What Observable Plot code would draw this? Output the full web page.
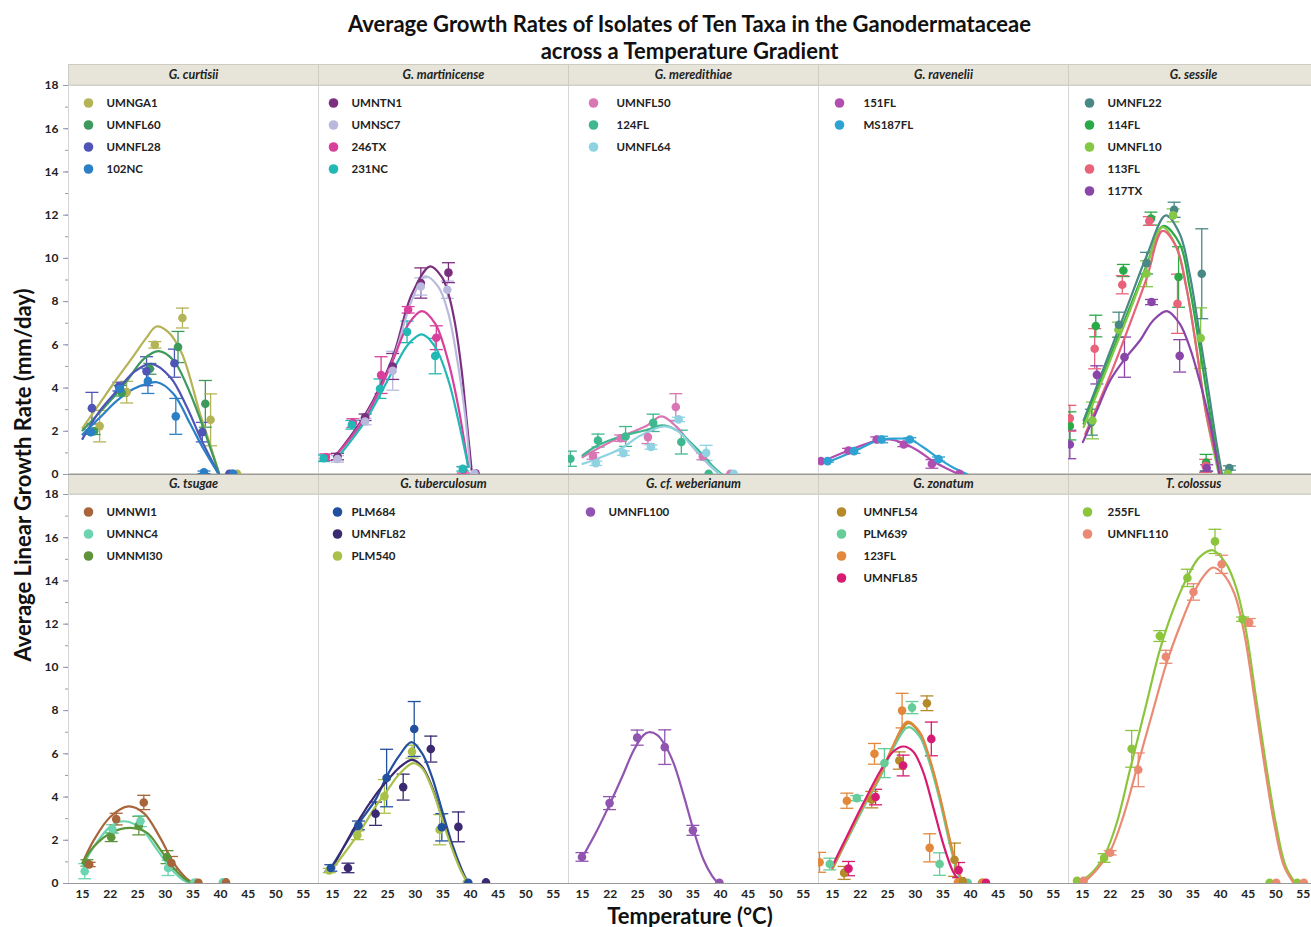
<!DOCTYPE html>
<html><head><meta charset="utf-8">
<script src="https://cdn.jsdelivr.net/npm/d3@7"></script>
<script src="https://cdn.jsdelivr.net/npm/@observablehq/plot@0.6"></script>
<style>
body{margin:0;overflow:hidden;background:#fff;font-family:Lato,"Open Sans",sans-serif;color:#111;}
#title{position:absolute;left:68px;width:1243px;top:10px;text-align:center;font:bold 22px/27px Lato,sans-serif;}
#chart{position:absolute;left:0;top:63px;width:1318px;}
#chart svg{max-width:none !important;}
#ylab{position:absolute;left:22px;top:475px;transform:translate(-50%,-50%) rotate(-90deg);font:bold 22px Lato,sans-serif;white-space:nowrap;}
#xlab{position:absolute;left:690px;top:915px;transform:translate(-50%,-50%);font:bold 22px Lato,sans-serif;white-space:nowrap;}
</style></head><body>
<div id="title">Average Growth Rates of Isolates of Ten Taxa in the Ganodermataceae<br>across a Temperature Gradient</div>
<div id="chart"></div>
<div id="ylab">Average Linear Growth Rate (mm/day)</div>
<div id="xlab">Temperature (°C)</div>
<script>
// ---------------- data ----------------
const taxa = ["G. curtisii","G. martinicense","G. meredithiae","G. ravenelii","G. sessile",
              "G. tsugae","G. tuberculosum","G. cf. weberianum","G. zonatum","T. colossus"];

const isolatesByTaxon = [
  ["UMNGA1","UMNFL60","UMNFL28","102NC"],
  ["UMNTN1","UMNSC7","246TX","231NC"],
  ["UMNFL50","124FL","UMNFL64"],
  ["151FL","MS187FL"],
  ["UMNFL22","114FL","UMNFL10","113FL","117TX"],
  ["UMNWI1","UMNNC4","UMNMI30"],
  ["PLM684","UMNFL82","PLM540"],
  ["UMNFL100"],
  ["UMNFL54","PLM639","123FL","UMNFL85"],
  ["255FL","UMNFL110"]
];

const isolateNames = ["UMNGA1","UMNFL60","UMNFL28","102NC","UMNTN1","UMNSC7","246TX","231NC",
  "UMNFL50","124FL","UMNFL64","151FL","MS187FL","UMNFL22","114FL","UMNFL10","113FL","117TX",
  "UMNWI1","UMNNC4","UMNMI30","PLM684","UMNFL82","PLM540","UMNFL100","UMNFL54","PLM639","123FL","UMNFL85",
  "255FL","UMNFL110"];
const isolateColors = ["#b4b356","#3d9a5c","#4f55b5","#2a7fc5","#7b2f7f","#b9b9dd","#d8409c","#22b8b5",
  "#d977b5","#3fb88f","#8fd3e3","#b04fb0","#2ea3d3","#4a8886","#2aaa46","#84c846","#e8627a","#8a45a8",
  "#a8643a","#6cd4b0","#5d943a","#22509e","#3b2a72","#a9c148","#9055b0","#b48a2a","#66cc99","#e3883a","#d81b72",
  "#8cc43c","#ea8a72"];

// points: [isolate, temperature position, mean rate, error]
const curtisiiPts = [
  ["UMNGA1",18.1,2.24,0.73],["UMNGA1",23.0,3.81,0.5],["UMNGA1",28.1,6.0,0.15],["UMNGA1",33.1,7.24,0.46],["UMNGA1",38.2,2.53,1.2],["UMNGA1",43.0,0.03,0],
  ["UMNFL60",17.1,2.0,0.15],["UMNFL60",22.1,3.78,0.15],["UMNFL60",27.2,4.89,0.25],["UMNFL60",32.3,5.9,0.72],["UMNFL60",37.25,3.27,1.08],["UMNFL60",42.1,0.03,0],
  ["UMNFL28",16.7,3.07,0.73],["UMNFL28",21.6,4.07,0.2],["UMNFL28",26.6,4.78,0.67],["UMNFL28",31.65,5.15,0.65],["UMNFL28",36.7,1.96,0.45],["UMNFL28",41.6,0.03,0],
  ["102NC",16.5,1.96,0.1],["102NC",21.8,3.97,0.15],["102NC",26.85,4.32,0.57],["102NC",31.9,2.69,0.83],["102NC",37.0,0.1,0.06],["102NC",42.3,0.03,0]
];
const martinicensePts = [
  ["246TX",13.8,0.8,0.15],["231NC",13.4,0.75,0.15],["UMNTN1",15.9,0.83,0.15],["UMNSC7",15.9,0.72,0.15],
  ["246TX",18.7,2.38,0.2],["231NC",18.5,2.3,0.2],["UMNTN1",20.9,2.65,0.15],["UMNSC7",20.9,2.45,0.15],
  ["246TX",23.8,4.6,0.85],["231NC",23.6,3.97,0.45],["UMNTN1",25.9,5.0,0.6],["UMNSC7",25.9,4.8,0.9],
  ["246TX",28.7,7.62,0.15],["231NC",28.5,6.6,0.5],["UMNTN1",31.0,8.86,0.7],["UMNSC7",31.0,8.7,0.4],
  ["246TX",33.8,6.33,0.55],["231NC",33.6,5.48,0.82],["UMNTN1",36.0,9.34,0.46],["UMNSC7",35.8,8.55,0.4],
  ["246TX",38.7,0.22,0.15],["231NC",38.6,0.26,0.1],["UMNTN1",40.9,0.06,0],["UMNSC7",40.7,0.05,0]
];
const meredithiaePts = [
  ["124FL",12.8,0.73,0.35],["UMNFL50",16.9,0.86,0.15],["UMNFL64",17.4,0.52,0.1],["124FL",17.8,1.57,0.3],
  ["UMNFL50",21.9,1.68,0.15],["UMNFL64",22.4,0.99,0.1],["124FL",22.8,1.76,0.46],
  ["UMNFL50",26.85,1.73,0.3],["UMNFL64",27.4,1.27,0.1],["124FL",27.8,2.39,0.4],
  ["UMNFL50",31.9,3.12,0.62],["UMNFL64",32.4,2.55,0.1],["124FL",32.9,1.5,0.55],
  ["UMNFL50",36.8,0.83,0.15],["UMNFL64",37.4,1.0,0.35],["124FL",37.85,0.03,0],
  ["UMNFL50",41.8,0.03,0],["UMNFL64",42.4,0.03,0]
];
const raveneliiPts = [
  ["151FL",12.9,0.62,0.05],["MS187FL",14.1,0.62,0.05],["151FL",17.9,1.11,0.1],["MS187FL",18.9,1.08,0.1],
  ["151FL",23.0,1.62,0.12],["MS187FL",23.9,1.62,0.15],["151FL",27.9,1.39,0.1],["MS187FL",29.0,1.62,0.08],
  ["151FL",33.0,0.49,0.2],["MS187FL",34.2,0.71,0.1],["151FL",38.0,0.03,0]
];
const sessilePts = [
  ["117TX",12.7,1.39,0.66],["114FL",12.7,2.25,0.65],["113FL",12.7,2.6,0.6],
  ["UMNFL22",16.6,2.42,0.6],["UMNFL10",16.8,2.5,0.85],["114FL",17.4,6.87,0.5],["113FL",17.2,5.82,0.93],["117TX",17.6,4.61,0.42],
  ["UMNFL10",21.5,6.7,0.35],["UMNFL22",21.6,6.93,0.58],["114FL",22.4,9.44,0.28],["113FL",22.2,8.78,0.42],["117TX",22.6,5.43,0.93],
  ["UMNFL22",26.6,9.78,0.5],["UMNFL10",26.6,9.29,0.6],["114FL",27.4,11.84,0.3],["113FL",27.1,11.73,0.2],["117TX",27.5,7.98,0.12],
  ["UMNFL22",31.6,12.25,0.35],["UMNFL10",31.4,11.99,0.3],["114FL",32.4,9.14,1.4],["113FL",32.2,7.9,1.37],["117TX",32.6,5.49,0.75],
  ["UMNFL22",36.6,9.29,2.08],["UMNFL10",36.4,6.31,1.4],["114FL",37.4,0.55,0.38],["113FL",37.3,0.4,0.3],["117TX",37.5,0.3,0.15],
  ["UMNFL22",41.6,0.3,0.1],["UMNFL10",41.3,0.03,0]
];
const tsugaePts = [
  ["UMNNC4",15.4,0.57,0.35],["UMNMI30",15.8,0.95,0.15],["UMNWI1",16.2,0.88,0.1],
  ["UMNMI30",20.2,2.14,0.2],["UMNNC4",20.4,2.52,0.2],["UMNWI1",21.1,2.98,0.27],
  ["UMNMI30",25.2,2.68,0.43],["UMNNC4",25.5,2.88,0.25],["UMNWI1",26.1,3.75,0.33],
  ["UMNMI30",30.3,1.22,0.3],["UMNNC4",30.5,0.72,0.35],["UMNWI1",31.1,0.95,0.3],
  ["UMNMI30",35.5,0.03,0],["UMNNC4",35.2,0.03,0],["UMNWI1",36.0,0.03,0],
  ["UMNNC4",40.4,0.05,0],["UMNWI1",41.0,0.05,0]
];
const tuberculosumPts = [
  ["PLM540",14.4,0.6,0.1],["PLM684",14.7,0.72,0.15],["UMNFL82",17.8,0.72,0.22],
  ["PLM540",19.5,2.23,0.2],["PLM684",19.7,2.69,0.2],["UMNFL82",22.8,3.23,0.54],
  ["PLM540",24.4,4.03,0.78],["PLM684",24.8,4.88,1.33],["UMNFL82",27.8,4.46,0.6],
  ["PLM540",29.4,6.1,0.3],["PLM684",29.8,7.15,1.27],["UMNFL82",32.8,6.22,0.6],
  ["PLM540",34.4,2.49,0.7],["PLM684",34.8,2.6,0.63],["UMNFL82",37.8,2.62,0.69],
  ["PLM540",39.3,0.03,0],["PLM684",39.6,0.03,0],["UMNFL82",42.8,0.05,0]
];
const weberianumPts = [
  ["UMNFL100",14.9,1.23,0.2],["UMNFL100",19.9,3.72,0.3],["UMNFL100",24.9,6.75,0.35],
  ["UMNFL100",29.9,6.31,0.8],["UMNFL100",35.0,2.46,0.23],["UMNFL100",39.8,0.03,0]
];
const zonatumPts = [
  ["123FL",12.65,0.98,0.46],["PLM639",14.5,0.9,0.27],["UMNFL54",17.1,0.49,0.3],["UMNFL85",17.9,0.69,0.33],
  ["123FL",17.6,3.83,0.35],["PLM639",19.4,3.95,0.12],["UMNFL54",22.1,3.88,0.38],["UMNFL85",22.8,4.0,0.36],
  ["123FL",22.6,6.0,0.48],["PLM639",24.4,5.57,0.67],["UMNFL54",27.1,5.69,0.4],["UMNFL85",27.8,5.46,0.48],
  ["123FL",27.6,8.0,0.8],["PLM639",29.4,8.14,0.28],["UMNFL54",32.1,8.34,0.34],["UMNFL85",32.9,6.69,0.78],
  ["123FL",32.6,1.65,0.65],["PLM639",34.4,0.9,0.52],["UMNFL54",37.1,1.1,0.77],["UMNFL85",37.85,0.62,0.35],
  ["123FL",37.7,0.05,0],["PLM639",39.5,0.03,0],["UMNFL54",38.6,0.1,0],
  ["UMNFL54",42.1,0.03,0],["123FL",42.3,0.03,0],["UMNFL85",42.8,0.03,0]
];
const colossusPts = [
  ["255FL",14.0,0.12,0],["UMNFL110",15.2,0.12,0],["255FL",18.9,1.18,0.2],["UMNFL110",20.0,1.42,0.1],
  ["255FL",23.9,6.23,0.85],["UMNFL110",25.1,5.26,0.78],["255FL",29.0,11.45,0.25],["UMNFL110",30.1,10.49,0.3],
  ["255FL",34.0,14.14,0.4],["UMNFL110",35.1,13.49,0.38],["255FL",39.0,15.83,0.56],["UMNFL110",40.2,14.77,0.42],
  ["255FL",44.0,12.23,0.1],["UMNFL110",45.2,12.08,0.18],["255FL",48.9,0.03,0],["UMNFL110",50.1,0.03,0],
  ["255FL",53.9,0.03,0],["UMNFL110",55.1,0.03,0]
];

// fitted curves: [isolate, [[temperature position, rate], ...]]
const curtisiiCurves = [
  ["UMNGA1",[[15,2.15],[18,3.25],[21,4.35],[24,5.4],[26.5,6.3],[28.4,6.85],[30.5,6.6],[33,5.6],[36.3,2.8],[38.1,1.4],[39.8,0]]],
  ["UMNFL60",[[15,2.04],[20.1,3.43],[23.1,4.35],[26.1,5.35],[28.8,5.71],[31.5,5.28],[33.9,4.12],[36.3,2.58],[38.1,1.27],[39.8,0]]],
  ["UMNFL28",[[15,1.65],[18,2.9],[21.3,3.89],[24.3,4.74],[27.45,5.12],[30.9,4.5],[33.9,3.12],[36.3,1.73],[38.1,0.8],[39.7,0]]],
  ["102NC",[[15,1.85],[18,2.6],[21.3,3.43],[24.3,3.97],[28.5,4.27],[31.5,3.73],[34.5,2.35],[36.9,1.19],[39.7,0]]]
];
const martinicenseCurves = [
  ["UMNTN1",[[15.6,0.88],[21,2.81],[25.8,5.35],[29.4,8.36],[32.7,9.63],[34.8,9.14],[36,8.36],[37.2,6.98],[38.4,4.81],[39.3,2.5],[40.2,0.2]]],
  ["UMNSC7",[[15.6,0.77],[21,2.69],[25.8,5.2],[29.4,8.09],[31.8,9.17],[34.2,8.67],[36,7.44],[37.8,4.97],[39,2.81],[39.9,0.35]]],
  ["246TX",[[15.3,0.8],[21,2.65],[25.8,5.2],[28.8,6.98],[31.2,7.56],[33.6,6.98],[36,5.2],[37.8,3.12],[39.6,0.35]]],
  ["231NC",[[15.9,0.77],[21,2.5],[25.8,4.74],[28.8,6.05],[31.2,6.48],[33.6,5.9],[36,4.35],[37.8,2.5],[39.6,0.35]]]
];
const meredithiaeCurves = [
  ["UMNFL50",[[15,0.8],[17.7,1.19],[21.9,1.73],[26.7,2.27],[29.3,2.69],[32.1,2.19],[34.5,1.42],[36.9,0.73],[38.75,0.26],[40,0]]],
  ["124FL",[[15,0.88],[17.7,1.34],[21.9,1.76],[26.7,2.07],[29.4,2.27],[32.1,2.04],[34.5,1.5],[36.9,0.88],[38.75,0.34],[40.3,0]]],
  ["UMNFL64",[[15,0.49],[17.7,0.73],[21.9,1.19],[25.5,1.8],[29.7,2.22],[32.1,2.04],[34.5,1.42],[36.9,0.73],[38.75,0.26],[40,0]]]
];
const raveneliiCurves = [
  ["151FL",[[12.9,0.57],[17.9,1.11],[23,1.57],[25.4,1.62],[27.9,1.45],[30.5,1.1],[33,0.65],[35.5,0.3],[38,0]]],
  ["MS187FL",[[14.1,0.57],[18.9,1.08],[23.5,1.6],[26,1.66],[29,1.62],[31.5,1.25],[34.2,0.75],[37,0.3],[39.5,0]]]
];
const sessileCurves = [
  ["UMNFL22",[[15.2,2.5],[17.6,4.1],[20.6,6.1],[23.6,8.1],[26.6,10.1],[30.1,11.99],[32.6,11.14],[34.4,9.29],[36.2,6.5],[38,3.58],[39.2,1.57],[40.3,0]]],
  ["114FL",[[15.2,2.35],[17.6,3.89],[20.6,5.82],[23.6,7.75],[26.6,9.68],[29.6,11.5],[32.6,10.68],[34.4,8.67],[36.2,5.9],[38,2.96],[39.9,0]]],
  ["UMNFL10",[[15.2,2.19],[17.6,3.73],[20.6,5.66],[23.6,7.59],[26.6,9.6],[29.5,11.45],[32,10.52],[33.8,8.67],[35.6,5.9],[37.4,2.81],[39.7,0]]],
  ["113FL",[[15.5,1.88],[17.6,3.12],[20.6,4.97],[23.6,6.98],[26.6,9.06],[29.5,11.27],[32,10.52],[33.8,8.67],[35.6,5.9],[37.4,2.81],[40,0]]],
  ["117TX",[[15.06,1.5],[17.6,2.96],[20,4.35],[22.7,5.36],[25.4,6.2],[27.8,7.13],[30.3,7.56],[32.6,6.98],[34.4,5.9],[36.2,4.35],[38,2.5],[39.8,0]]]
];
const tsugaeCurves = [
  ["UMNWI1",[[15,0.95],[17.1,2.03],[20.1,3.1],[23.3,3.57],[26.1,3.26],[29.1,2.1],[31.5,0.95],[33.9,0.22],[35.4,0]]],
  ["UMNNC4",[[15,0.8],[17.1,1.72],[20.1,2.65],[22.5,2.88],[25.5,2.57],[28.5,1.57],[30.9,0.72],[33.3,0.15],[34.8,0]]],
  ["UMNMI30",[[15,0.95],[17.1,1.72],[20.1,2.34],[23.7,2.57],[26.7,2.34],[29.1,1.57],[31.5,0.72],[33.9,0.15],[35.4,0]]]
];
const tuberculosumCurves = [
  ["PLM684",[[14.7,0.72],[19.8,2.8],[22.8,3.88],[24.8,4.95],[27,5.88],[29.3,6.54],[31.2,6.03],[33,4.95],[34.8,3.42],[36.6,1.88],[38.4,0.65],[39.6,0]]],
  ["UMNFL82",[[15,0.72],[19.8,2.95],[22.8,4.1],[24.8,4.72],[27,5.34],[29.4,5.72],[31.2,5.42],[33,4.49],[34.8,3.11],[36.6,1.72],[38.4,0.57],[39.6,0]]],
  ["PLM540",[[14.7,0.57],[19.8,2.34],[22.8,3.57],[24.8,4.26],[27,5.03],[29.6,5.57],[31.2,5.34],[33,4.42],[34.8,3.03],[36.6,1.65],[38.4,0.52],[39.6,0]]]
];
const weberianumCurves = [
  ["UMNFL100",[[14.9,1.18],[17.7,2.49],[19.9,3.65],[22.2,4.95],[24.3,6.18],[26.1,6.88],[27,7.0],[28.5,6.88],[29.9,6.42],[31.5,5.57],[33.3,4.1],[35,2.57],[36.9,1.11],[38.5,0.34],[39.65,0]]]
];
const zonatumCurves = [
  ["UMNFL54",[[15,0.68],[17.6,2.03],[20.6,3.57],[23.6,4.95],[26,6.34],[28.7,7.42],[30.8,6.95],[32.6,5.72],[34.4,4.03],[36.2,2.03],[37.4,0.8],[38.6,0]]],
  ["PLM639",[[15,0.68],[17.6,2.0],[20.6,3.5],[23.6,4.9],[26,6.25],[28.7,7.23],[30.8,6.8],[32.6,5.57],[34.4,3.88],[36.2,1.88],[37.4,0.72],[38.5,0]]],
  ["123FL",[[15,0.7],[17.6,2.08],[20.6,3.62],[23.6,5.0],[26,6.4],[28.6,7.49],[30.8,7.0],[32.6,5.78],[34.4,4.08],[36.2,2.08],[37.4,0.85],[38.7,0]]],
  ["UMNFL85",[[14.9,0.77],[17.6,2.18],[20.6,3.72],[23.6,5.18],[26,6.11],[27.9,6.34],[29.6,6.11],[31.4,5.18],[33.2,3.57],[35,1.88],[36.8,0.57],[38.3,0]]]
];
const colossusCurves = [
  ["255FL",[[14,0.03],[16.4,0.42],[18.9,1.26],[21.2,2.8],[23.6,5.26],[26.6,8.34],[29,10.8],[31.4,12.65],[34,14.18],[36.2,15.1],[38.6,15.42],[41,14.8],[42.8,13.72],[44.6,11.72],[46.4,8.65],[48.2,5.57],[50,2.8],[51.8,0.8],[53.6,0]]],
  ["UMNFL110",[[15.2,0.03],[17.6,0.65],[20,1.49],[22.4,3.11],[25.1,5.57],[27.8,8.03],[30.2,10.18],[32.6,11.88],[35.1,13.42],[36.8,14.18],[38.6,14.62],[40.4,14.34],[42.5,13.42],[44.3,11.57],[46.1,8.65],[47.9,5.57],[49.7,2.8],[51.5,0.8],[53.3,0]]]
];

const pointsByTaxon = [curtisiiPts, martinicensePts, meredithiaePts, raveneliiPts, sessilePts,
                       tsugaePts, tuberculosumPts, weberianumPts, zonatumPts, colossusPts];
const curvesByTaxon = [curtisiiCurves, martinicenseCurves, meredithiaeCurves, raveneliiCurves, sessileCurves,
                       tsugaeCurves, tuberculosumCurves, weberianumCurves, zonatumCurves, colossusCurves];

const xTicks = [15,20,25,30,35,40,45,50,55];
const xTickLabels = ["15","22","25","30","35","40","45","50","55"];
const yTicks = [0,2,4,6,8,10,12,14,16,18];
const yMinorTicks = d3.range(0, 19, 1);

// ---------------- layout / style ----------------
const legendDotDx  = [20,15,25,21,21,20,19,22,23,19];
const legendTextDx = [38,33,48,45,39,38,33,40,45,39];

const W = 1318, H = 864, MT = 22, MB = 43, ML = 68;
const fyPad = 40 / 819;
const facetH = (H - MT - MB) / (2 - fyPad) * (1 - fyPad);

const cell = i => ({col: i % 5, row: Math.floor(i / 5)});
const points = pointsByTaxon.flatMap((arr, i) => arr.map(([iso, t, r, se]) => ({...cell(i), iso, t, r, se})));
const curves = curvesByTaxon.flatMap((arr, i) => arr.flatMap(([iso, pts]) => pts.map(([t, r]) => ({...cell(i), iso, t, r}))));
const bars = points.filter(d => d.se > 0);
const caps = bars.flatMap(d => [{...d, v: d.r - d.se}, {...d, v: d.r + d.se}]);
const headers = taxa.map((name, i) => ({...cell(i), name}));

const capSymbol = {draw(ctx, size) { const w = Math.sqrt(size / Math.PI); ctx.moveTo(-w, 0); ctx.lineTo(w, 0); }};

const legendMarks = [];
isolatesByTaxon.forEach((isos, i) => {
  isos.forEach((iso, k) => {
    const d = [{...cell(i), iso}];
    const dy = 17.5 + 22 * k;
    legendMarks.push(Plot.dot(d, {fx: "col", fy: "row", frameAnchor: "top-left", dx: legendDotDx[i], dy, r: 4.8, fill: "iso"}));
    legendMarks.push(Plot.text(d, {fx: "col", fy: "row", frameAnchor: "top-left", dx: legendTextDx[i], dy, text: "iso",
      textAnchor: "start", lineAnchor: "middle", fontWeight: "bold", fontSize: 11.5, fill: "#222"}));
  });
});

const chart = Plot.plot({
  width: W, height: H,
  marginLeft: ML, marginRight: 0, marginTop: MT, marginBottom: MB,
  style: {fontFamily: "Lato, 'Open Sans', sans-serif", fontSize: "11px", background: "white", overflow: "visible", maxWidth: "none"},
  fx: {domain: [0,1,2,3,4], padding: 0, axis: null},
  fy: {domain: [0,1], paddingInner: fyPad, paddingOuter: 0, axis: null},
  x: {domain: [12.46, 57.75]},
  y: {domain: [0, 18]},
  color: {domain: isolateNames, range: isolateColors},
  marks: [
    Plot.frame({stroke: "#d6d6d6"}),
    Plot.frame({fill: "#e7e5d9", stroke: "#cfcdc1", insetTop: -21, insetBottom: facetH}),
    Plot.text(headers, {fx: "col", fy: "row", frameAnchor: "top", dy: -10.5, lineAnchor: "middle", text: "name",
      fontStyle: "italic", fontWeight: "bold", fontSize: 12.5, fill: "#222"}),
    Plot.axisY({ticks: yMinorTicks, tickSize: 3, tickFormat: () => "", label: null, stroke: "#8e9ab8"}),
    Plot.axisY({ticks: yTicks, tickSize: 5, tickPadding: 5, fontSize: 12, fontWeight: "bold", label: null, stroke: "#8e9ab8", fill: "#222"}),
    Plot.axisX({ticks: xTicks, tickFormat: d => xTickLabels[xTicks.indexOf(d)], tickSize: 0, tickPadding: 6,
      fontSize: 12, fontWeight: "bold", label: null, fill: "#222"}),
    Plot.ruleY([0], {stroke: "#9a9a9a"}),
    Plot.ruleX(bars, {fx: "col", fy: "row", x: "t", y1: d => d.r - d.se, y2: d => d.r + d.se, stroke: "iso", strokeWidth: 1.3, clip: "frame"}),
    Plot.dot(caps, {fx: "col", fy: "row", x: "t", y: "v", symbol: capSymbol, r: 6.5, fill: "none", stroke: "iso", strokeWidth: 1.3, clip: "frame"}),
    Plot.line(curves, {fx: "col", fy: "row", x: "t", y: "r", z: "iso", stroke: "iso", strokeWidth: 2.2, curve: "catmull-rom", clip: "frame"}),
    Plot.dot(points, {fx: "col", fy: "row", x: "t", y: "r", fill: "iso", r: 4.3, clip: "frame"}),
    ...legendMarks
  ]
});
document.getElementById("chart").appendChild(chart);
</script>
</body></html>
